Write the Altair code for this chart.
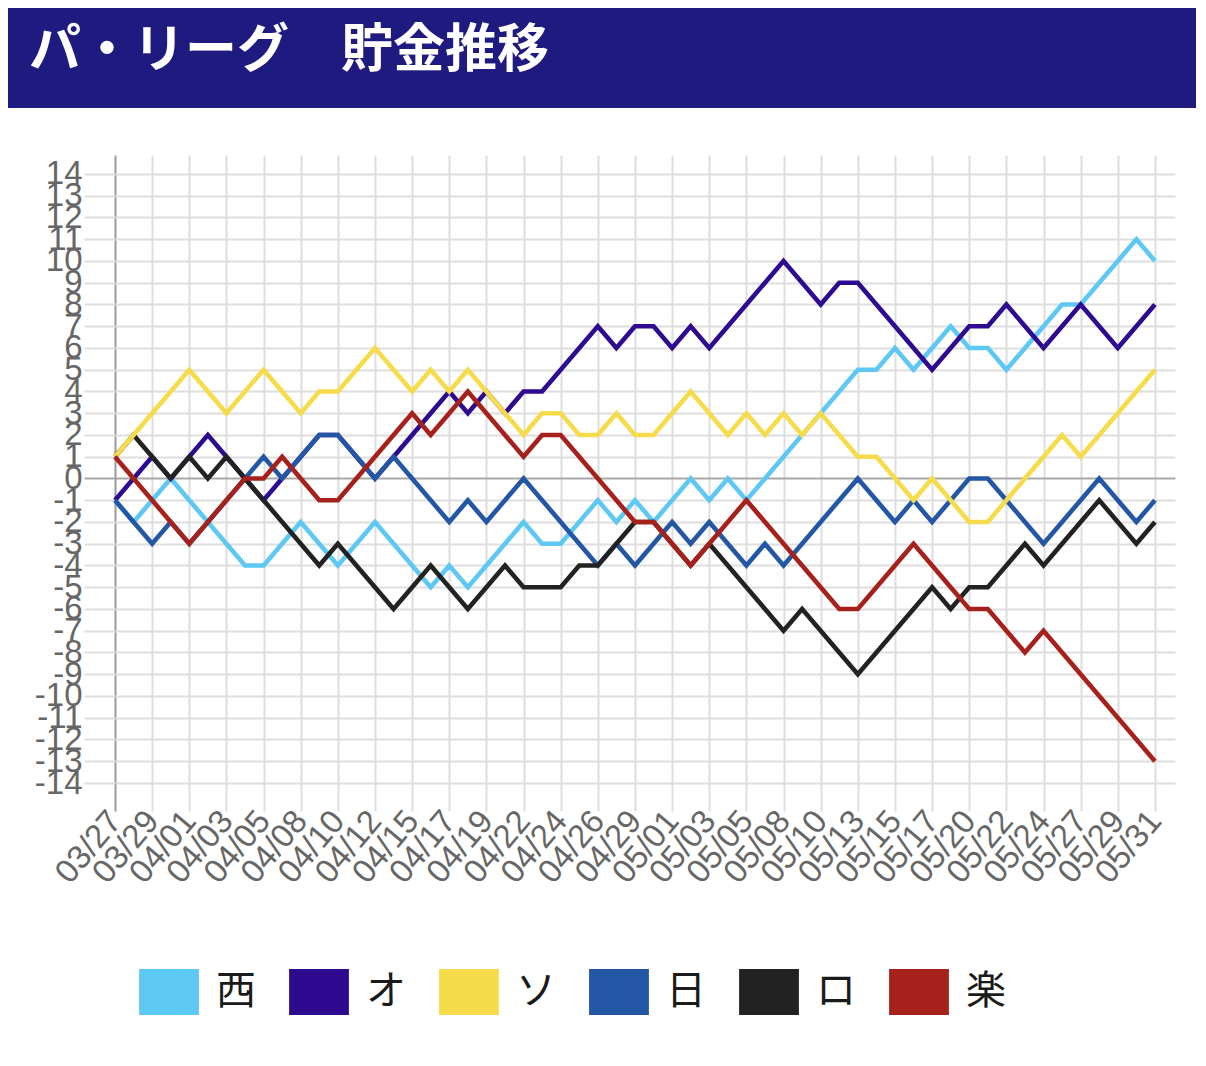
import altair as alt
import pandas as pd

TITLE = "パ・リーグ　貯金推移"
TEAMS = ["西", "オ", "ソ", "日", "ロ", "楽"]
COLORS = ["#5ec8f5", "#2d0a8f", "#f6dc4b", "#2356a5", "#222222", "#a6211b"]
DRAW_ORDER = ["西", "オ", "日", "ロ", "ソ", "楽"]

DATE_LABELS = ["03/27", "03/29", "04/01", "04/03", "04/05", "04/08", "04/10",
               "04/12", "04/15", "04/17", "04/19", "04/22", "04/24", "04/26",
               "04/29", "05/01", "05/03", "05/05", "05/08", "05/10", "05/13",
               "05/15", "05/17", "05/20", "05/22", "05/24", "05/27", "05/29",
               "05/31"]

SEIBU = [-1, -2, -1, 0, -1, -2, -3, -4, -4, -3,
         -2, -3, -4, -3, -2, -3, -4, -5, -4, -5,
         -4, -3, -2, -3, -3, -2, -1, -2, -1, -2,
         -1, 0, -1, 0, -1, 0, 1, 2, 3, 4,
         5, 5, 6, 5, 6, 7, 6, 6, 5, 6,
         7, 8, 8, 9, 10, 11, 10]
ORIX = [-1, 0, 1, 0, 1, 2, 1, 0, -1, 0,
        1, 2, 2, 1, 0, 1, 2, 3, 4, 3,
        4, 3, 4, 4, 5, 6, 7, 6, 7, 7,
        6, 7, 6, 7, 8, 9, 10, 9, 8, 9,
        9, 8, 7, 6, 5, 6, 7, 7, 8, 7,
        6, 7, 8, 7, 6, 7, 8]
SOFTBANK = [1, 2, 3, 4, 5, 4, 3, 4, 5, 4,
            3, 4, 4, 5, 6, 5, 4, 5, 4, 5,
            4, 3, 2, 3, 3, 2, 2, 3, 2, 2,
            3, 4, 3, 2, 3, 2, 3, 2, 3, 2,
            1, 1, 0, -1, 0, -1, -2, -2, -1, 0,
            1, 2, 1, 2, 3, 4, 5]
NIPPONHAM = [-1, -2, -3, -2, -3, -2, -1, 0, 1, 0,
             1, 2, 2, 1, 0, 1, 0, -1, -2, -1,
             -2, -1, 0, -1, -2, -3, -4, -3, -4, -3,
             -2, -3, -2, -3, -4, -3, -4, -3, -2, -1,
             0, -1, -2, -1, -2, -1, 0, 0, -1, -2,
             -3, -2, -1, 0, -1, -2, -1]
LOTTE = [1, 2, 1, 0, 1, 0, 1, 0, -1, -2,
         -3, -4, -3, -4, -5, -6, -5, -4, -5, -6,
         -5, -4, -5, -5, -5, -4, -4, -3, -2, -2,
         -3, -4, -3, -4, -5, -6, -7, -6, -7, -8,
         -9, -8, -7, -6, -5, -6, -5, -5, -4, -3,
         -4, -3, -2, -1, -2, -3, -2]
RAKUTEN = [1, 0, -1, -2, -3, -2, -1, 0, 0, 1,
           0, -1, -1, 0, 1, 2, 3, 2, 3, 4,
           3, 2, 1, 2, 2, 1, 0, -1, -2, -2,
           -3, -4, -3, -2, -1, -2, -3, -4, -5, -6,
           -6, -5, -4, -3, -4, -5, -6, -6, -7, -8,
           -7, -8, -9, -10, -11, -12, -13]

SERIES = {"西": SEIBU, "オ": ORIX, "ソ": SOFTBANK,
          "日": NIPPONHAM, "ロ": LOTTE, "楽": RAKUTEN}

rows = []
for team, vals in SERIES.items():
    for i, v in enumerate(vals):
        rows.append({"team": team, "i": i, "v": v})
df = pd.DataFrame(rows)

label_expr = "[" + ",".join("'%s'" % d for d in DATE_LABELS) + "][round(datum.value/2)]"

GRID = "#dedede"
ZERO = "#a8a8a8"

x_enc = alt.X(
    "i:Q",
    scale=alt.Scale(domain=[0, 57.08], nice=False, zero=False),
    axis=alt.Axis(
        title=None,
        values=list(range(0, 57, 2)),
        labelExpr=label_expr,
        labelAngle=-50,
        labelAlign="right",
        labelBaseline="middle",
        labelFontSize=33,
        labelFont="Liberation Sans",
        labelColor="#666666",
        labelPadding=4,
        labelOverlap=False,
        labelFlush=False,
        labelBound=False,
        tickSize=28,
        tickWidth=2,
        tickColor={"condition": {"test": "datum.value === 0", "value": "#9a9a9a"}, "value": GRID},
        grid=True,
        gridWidth=2,
        gridColor={"condition": {"test": "datum.value === 0", "value": "#9a9a9a"}, "value": GRID},
        domain=False,
    ),
)
y_enc = alt.Y(
    "v:Q",
    scale=alt.Scale(domain=[-14, 14.87], nice=False, zero=False),
    axis=alt.Axis(
        title=None,
        values=list(range(-14, 15)),
        labelExpr="'' + datum.value",
        labelFontSize=33,
        labelFont="Liberation Sans",
        labelColor="#666666",
        labelPadding=2,
        labelOverlap=False,
        labelFlush=False,
        labelBound=False,
        tickSize=31,
        tickWidth=2,
        tickColor={"condition": {"test": "datum.value === 0", "value": ZERO}, "value": GRID},
        grid=True,
        gridWidth=2,
        gridColor={"condition": {"test": "datum.value === 0", "value": ZERO}, "value": GRID},
        domain=False,
    ),
)
color_scale = alt.Scale(domain=TEAMS, range=COLORS)

base = alt.Chart(df).encode(
    x=x_enc, y=y_enc,
    color=alt.Color("team:N", scale=color_scale, legend=None),
)
lines = [
    base.transform_filter(alt.datum.team == t).mark_line(strokeWidth=4.6, strokeJoin="miter")
    for t in DRAW_ORDER
]

legend_layer = alt.Chart(df).transform_filter("false").mark_square(filled=True, opacity=1).encode(
    color=alt.Color(
        "team:N",
        scale=color_scale,
        sort=TEAMS,
        legend=alt.Legend(
            title=None,
            orient="none",
            direction="horizontal",
            legendX=31,
            legendY=814,
            symbolType="M-1.3,-1H1.3V1H-1.3Z",
            symbolSize=2116,
            symbolStrokeWidth=0,
            symbolOpacity=1,
            labelFontSize=40,
            labelFont="Noto Sans CJK JP",
            labelColor="#1a1a1a",
            labelOffset=24,
            columnPadding=33,
            padding=0,
        ),
    )
)

one = alt.Data(values=[{"a": 1}])
banner = alt.Chart(one).mark_rect(color="#1f1a80").encode(
    x=alt.value(-107), x2=alt.value(1081), y=alt.value(-147), y2=alt.value(-47)
)
title = alt.Chart(one).mark_text(
    font="Noto Sans CJK JP", fontSize=52, fontWeight="bold", color="#ffffff",
    align="left", baseline="alphabetic"
).encode(x=alt.value(-86), y=alt.value(-88), text=alt.value(TITLE))

chart = alt.layer(banner, title, *lines, legend_layer).resolve_legend(
    color="independent"
).properties(
    width=1060,
    height=628,
    padding={"left": 107, "top": 147, "right": 21, "bottom": 265},
    autosize=alt.AutoSizeParams(type="none"),
    background="#ffffff",
).configure_view(strokeWidth=0)

chart.save("out.html", embed_options={"renderer": "svg", "actions": False})
